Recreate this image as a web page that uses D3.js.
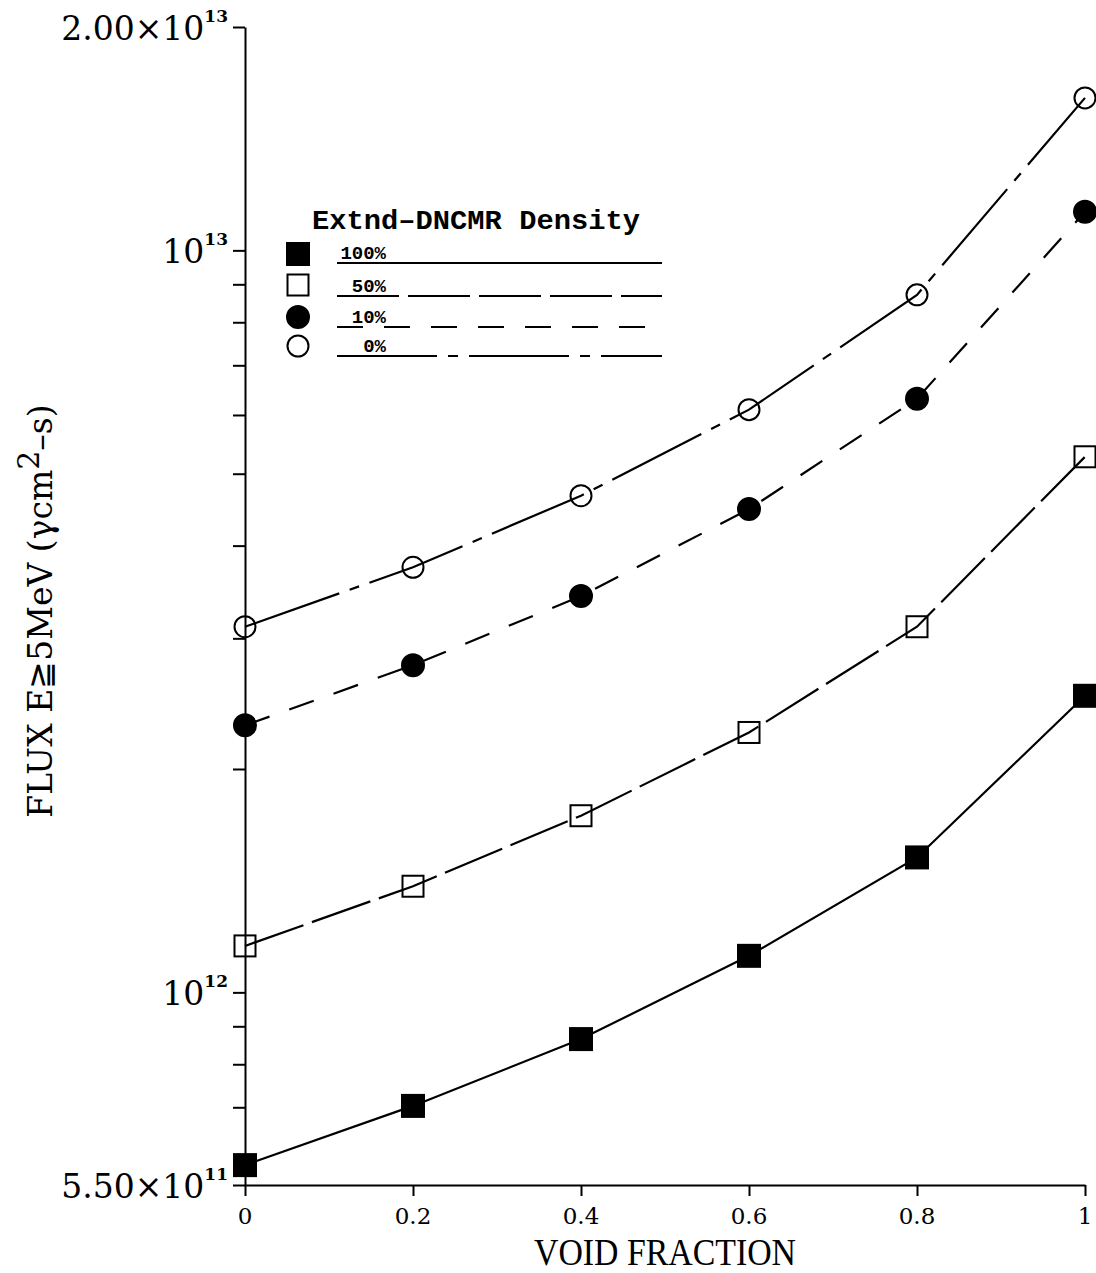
<!DOCTYPE html>
<html>
<head>
<meta charset="utf-8">
<script src="https://cdn.jsdelivr.net/npm/d3@7"></script>
<style>
  body { margin: 0; background: #fff; }
  svg { display: block; }
</style>
</head>
<body>
<svg id="chart" width="1096" height="1273"></svg>
<script>
// Flux (E >= 5 MeV) versus void fraction for four Extnd-DNCMR densities
const voidFraction = [0, 0.2, 0.4, 0.6, 0.8, 1.0];
const flux100 = [5.85e11, 7.03e11, 8.65e11, 1.12e12, 1.52e12, 2.51e12];
const flux50  = [1.155e12, 1.39e12, 1.73e12, 2.24e12, 3.11e12, 5.27e12];
const flux10  = [2.29e12, 2.76e12, 3.42e12, 4.48e12, 6.31e12, 1.127e13];
const flux0   = [3.11e12, 3.74e12, 4.67e12, 6.10e12, 8.71e12, 1.605e13];
const seriesNames = ["100%", "50%", "10%", "0%"];

const xTicks = [0, 0.2, 0.4, 0.6, 0.8, 1];
const xTickLabels = ["0", "0.2", "0.4", "0.6", "0.8", "1"];
const yLabelTicks = [5.5e11, 1e12, 1e13, 2e13];
const yLabelMantissa = ["5.50×10", "10", "10", "2.00×10"];
const yLabelExponent = ["11", "12", "13", "13"];

const svg = d3.select("#chart");
const plotLeft = 245, plotRight = 1085, plotTop = 27, plotBottom = 1185;

const x = d3.scaleLinear().domain([0, 1]).range([plotLeft, plotRight]);
const y = d3.scaleLog().domain([5.5e11, 2e13]).range([plotBottom, plotTop]);

const ink = "#000";

// ---- axes ----
const yTickVals = Array.from(new Set(yLabelTicks.concat(y.ticks())));
const yAxis = svg.append("g")
  .attr("transform", `translate(${plotLeft},0)`)
  .call(d3.axisLeft(y).tickValues(yTickVals).tickSize(12).tickSizeOuter(0).tickFormat(""));
yAxis.select(".domain").attr("stroke", ink).attr("stroke-width", 2);
yAxis.selectAll(".tick line").attr("stroke", ink).attr("stroke-width", 2);

const xAxis = svg.append("g")
  .attr("transform", `translate(0,${plotBottom})`)
  .call(d3.axisBottom(x).tickValues(xTicks).tickSize(11).tickSizeOuter(0).tickFormat(""));
xAxis.select(".domain").attr("stroke", ink).attr("stroke-width", 2);
xAxis.selectAll(".tick line").attr("stroke", ink).attr("stroke-width", 2);

// x tick labels
svg.append("g").selectAll("text")
  .data(xTicks)
  .join("text")
  .attr("x", d => x(d))
  .attr("y", plotBottom + 39)
  .attr("text-anchor", "middle")
  .attr("font-family", "DejaVu Serif")
  .attr("font-size", 23)
  .attr("fill", ink)
  .text((d, i) => xTickLabels[i]);

// y tick labels with powers of ten
const yLab = svg.append("g").selectAll("text")
  .data(yLabelTicks)
  .join("text")
  .attr("x", 228)
  .attr("y", d => y(d) + 13)
  .attr("text-anchor", "end")
  .attr("font-family", "DejaVu Serif")
  .attr("font-size", 33)
  .attr("fill", ink);
yLab.append("tspan").text((d, i) => yLabelMantissa[i]);
yLab.append("tspan")
  .attr("dy", -18)
  .attr("font-size", 17)
  .attr("font-weight", "bold")
  .text((d, i) => yLabelExponent[i]);

// axis titles
svg.append("text")
  .attr("x", (plotLeft + plotRight) / 2)
  .attr("y", 1265)
  .attr("text-anchor", "middle")
  .attr("font-family", "Liberation Serif")
  .attr("font-size", 37)
  .attr("textLength", 262)
  .attr("lengthAdjust", "spacingAndGlyphs")
  .attr("fill", ink)
  .text("VOID FRACTION");

const yTitle = svg.append("text")
  .attr("transform", "translate(52,611) rotate(-90)")
  .attr("text-anchor", "middle")
  .attr("font-family", "DejaVu Serif")
  .attr("font-size", 33)
  .attr("fill", ink);
yTitle.append("tspan").text("FLUX E≧5MeV (γcm");
yTitle.append("tspan").attr("dy", -13).attr("font-size", 30).text("2");
yTitle.append("tspan").attr("dy", 13).text("–s)");

// ---- series ----
const series = [
  { name: seriesNames[0], values: flux100, dash: null,           marker: "square", filled: true },
  { name: seriesNames[1], values: flux50,  dash: "62,9",         marker: "square", filled: false },
  { name: seriesNames[2], values: flux10,  dash: "26,21",        marker: "circle", filled: true },
  { name: seriesNames[3], values: flux0,   dash: "100,11,10,11", marker: "circle", filled: false }
];

const line = d3.line()
  .x(d => x(d[0]))
  .y(d => y(d[1]));

function drawMarker(g, s, cx, cy) {
  if (s.marker === "square") {
    const side = s.filled ? 22 : 21;
    g.append("rect")
      .attr("x", cx - side / 2).attr("y", cy - side / 2)
      .attr("width", side).attr("height", side)
      .attr("fill", s.filled ? ink : "none")
      .attr("stroke", ink).attr("stroke-width", 2);
  } else {
    g.append("circle")
      .attr("cx", cx).attr("cy", cy)
      .attr("r", s.filled ? 11 : 10.5)
      .attr("fill", s.filled ? ink : "none")
      .attr("stroke", ink).attr("stroke-width", 2);
  }
}

series.forEach(s => {
  const pts = voidFraction.map((v, i) => [v, s.values[i]]);
  const g = svg.append("g");
  g.append("path")
    .attr("d", line(pts))
    .attr("fill", "none")
    .attr("stroke", ink)
    .attr("stroke-width", 2.2)
    .attr("stroke-dasharray", s.dash);
  pts.forEach(p => drawMarker(g, s, x(p[0]), y(p[1])));
});

// ---- legend ----
const legend = svg.append("g");
legend.append("text")
  .attr("x", 312).attr("y", 229)
  .attr("font-family", "Liberation Mono")
  .attr("font-weight", "bold")
  .attr("font-size", 28)
  .attr("textLength", 328)
  .attr("lengthAdjust", "spacingAndGlyphs")
  .attr("fill", ink)
  .text("Extnd–DNCMR Density");

const legendRows = [
  { sym: 254, line: 263 },
  { sym: 285, line: 296 },
  { sym: 317, line: 327 },
  { sym: 346, line: 356 }
];

series.forEach((s, i) => {
  const r = legendRows[i];
  drawMarker(legend, s, 298, r.sym);
  legend.append("line")
    .attr("x1", 337).attr("x2", 662)
    .attr("y1", r.line).attr("y2", r.line)
    .attr("stroke", ink).attr("stroke-width", 2)
    .attr("stroke-dasharray", s.dash);
  legend.append("text")
    .attr("x", 386).attr("y", r.line - 4)
    .attr("text-anchor", "end")
    .attr("font-family", "Liberation Mono")
    .attr("font-weight", "bold")
    .attr("font-size", 19)
    .attr("fill", ink)
    .text(s.name);
});
</script>
</body>
</html>
